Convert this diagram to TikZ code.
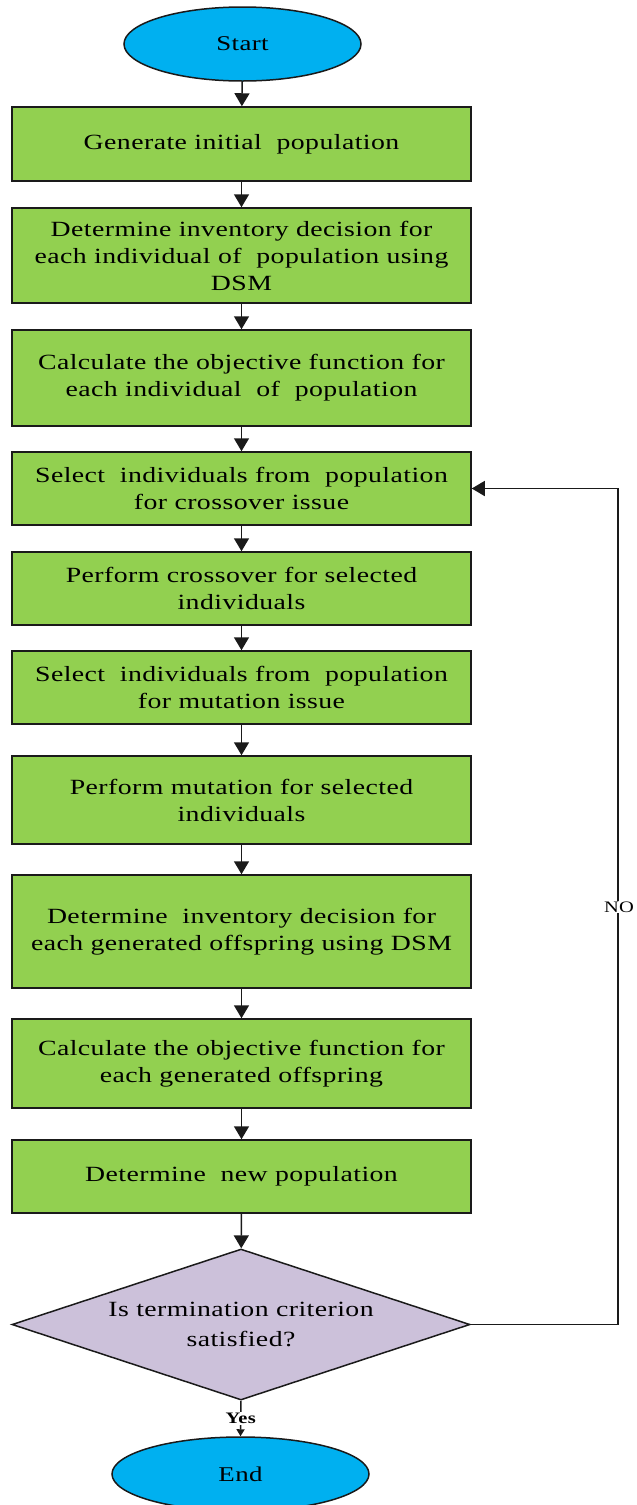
\documentclass[tikz,border=0pt]{standalone}
\usepackage{fontspec}
\setmainfont{Liberation Serif}[FakeStretch=1.28,LetterSpace=2]
\usetikzlibrary{arrows.meta,shapes.geometric}

\definecolor{boxgreen}{HTML}{92D050}
\definecolor{termblue}{HTML}{00B0F0}
\definecolor{declav}{HTML}{CCC1DA}
\definecolor{edge}{HTML}{1A1A1A}

\tikzset{
  stepbox/.style={draw=edge, line width=1.5pt, fill=boxgreen, rectangle,
    minimum width=459pt, inner sep=2pt, align=center,
    font=\fontsize{21.7pt}{27pt}\selectfont},
  terminal/.style={draw=edge, line width=1.5pt, fill=termblue, ellipse,
    inner sep=0pt, font=\fontsize{21pt}{26pt}\selectfont},
  decision/.style={draw=edge, line width=1.5pt, fill=declav, diamond,
    inner sep=0pt, minimum width=458pt, minimum height=151pt},
  flow/.style={draw=edge, line width=1.5pt, -{Triangle[width=15pt,length=13pt]}},
  thinflow/.style={draw=edge, line width=1.5pt, -{Triangle[width=8pt,length=7pt]}},
  tag/.style={fill=white, inner sep=1pt}
}

\begin{document}
\begin{tikzpicture}[x=1pt,y=-1pt]
\useasboundingbox (0,0) rectangle (637,1505);

% terminals
\node[terminal, minimum width=237pt, minimum height=74pt] (start) at (242.5,44) {Start};
\node[terminal, minimum width=257pt, minimum height=74pt] (stop) at (240.5,1474) {End};

% process steps
\node[stepbox, minimum height=74pt] (b1) at (241.5,144) {Generate initial~ population};
\node[stepbox, minimum height=95pt] (b2) at (241.5,255.5) {Determine inventory decision for\\each individual of~ population using\\DSM};
\node[stepbox, minimum height=96pt] (b3) at (241.5,378) {Calculate the objective function for\\each individual~ of~ population};
\node[stepbox, minimum height=73pt] (b4) at (241.5,488.5) {Select~ individuals from~ population\\for crossover issue};
\node[stepbox, minimum height=73pt] (b5) at (241.5,588.5) {Perform crossover for selected\\individuals};
\node[stepbox, minimum height=73pt] (b6) at (241.5,687.5) {Select~ individuals from~ population\\for mutation issue};
\node[stepbox, minimum height=88pt] (b7) at (241.5,800) {Perform mutation for selected\\individuals};
\node[stepbox, minimum height=113pt] (b8) at (241.5,931.5) {Determine~ inventory decision for\\each generated offspring using DSM};
\node[stepbox, minimum height=89pt] (b9) at (241.5,1063.5) {Calculate the objective function for\\each generated offspring};
\node[stepbox, minimum height=73pt] (b10) at (241.5,1176.5) {Determine~ new population};

% termination test
\node[decision] (dec) at (241,1324.5) {};
\node[align=center, font=\fontsize{21.7pt}{30pt}\selectfont] (dectext) at (dec.center) {Is termination criterion\\satisfied?};

% main flow
\draw[flow] (start) -- (b1);
\draw[flow] (b1) -- (b2);
\draw[flow] (b2) -- (b3);
\draw[flow] (b3) -- (b4);
\draw[flow] (b4) -- (b5);
\draw[flow] (b5) -- (b6);
\draw[flow] (b6) -- (b7);
\draw[flow] (b7) -- (b8);
\draw[flow] (b8) -- (b9);
\draw[flow] (b9) -- (b10);
\draw[flow] (b10) -- (dec);

% exit
\draw[thinflow] (dec.south) -- (stop.north)
  node[tag, pos=0.5, font=\bfseries\fontsize{16pt}{18pt}\selectfont] (yes) {Yes};

% loop back
\coordinate (corner) at (618,1324.5);
\draw[flow] (dec.east) -- (corner) |- (b4.east);
\node[tag, font=\fontsize{16pt}{18pt}\selectfont] (no) at (619,907) {NO};
\end{tikzpicture}
\end{document}
